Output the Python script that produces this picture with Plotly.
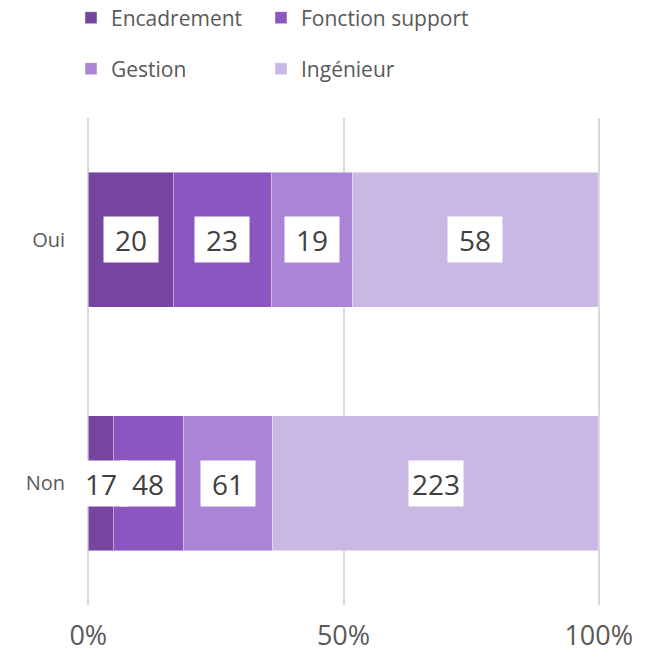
import plotly.graph_objects as go

categories = ["Non", "Oui"]
series_names = ["Encadrement", "Fonction support", "Gestion", "Ingénieur"]
series_values = {
    "Encadrement": [17, 20],
    "Fonction support": [48, 23],
    "Gestion": [61, 19],
    "Ingénieur": [223, 58],
}
series_colors = {
    "Encadrement": "#7645A0",
    "Fonction support": "#8B56BF",
    "Gestion": "#AA85D6",
    "Ingénieur": "#CAB8E4",
}
tick_vals = [0, 50, 100]
tick_text = ["0%", "50%", "100%"]

FONT = "Open Sans"
TEXT_COLOR = "#595959"
GRID = "#D9D9D9"

# one legend box per series, laid out as a 2 x 2 grid (container pixels)
legend_ids = ["legend", "legend2", "legend3", "legend4"]
legend_pos = [(71, 18), (261, 18), (71, 69), (261, 69)]

fig = go.Figure()
for name, lid in zip(series_names, legend_ids):
    fig.add_trace(go.Bar(
        y=categories,
        x=series_values[name],
        name=name,
        orientation="h",
        legend=lid,
        marker=dict(color=series_colors[name], line=dict(color="rgba(255,255,255,0.45)", width=1)),
        hoverinfo="skip",
    ))

# value labels in white boxes, centred on each stacked segment
totals = [sum(series_values[n][i] for n in series_names) for i in range(len(categories))]
annotations = []
for i, cat in enumerate(categories):
    cum = 0
    for name in series_names:
        v = series_values[name][i]
        mid = (cum + v / 2) / totals[i] * 100
        cum += v
        annotations.append(dict(
            x=mid, y=cat, xref="x", yref="y", text=str(v), showarrow=False,
            bgcolor="white", width=52, height=43,
            font=dict(family=FONT, size=28, color="#404040"),
        ))

legend_layout = {}
for lid, (px, py) in zip(legend_ids, legend_pos):
    legend_layout[lid] = dict(
        orientation="h", xref="container", yref="container",
        x=px / 653, xanchor="left", y=1 - py / 655, yanchor="middle",
        bgcolor="rgba(0,0,0,0)", itemwidth=30,
        font=dict(family=FONT, size=21, color=TEXT_COLOR),
    )

fig.update_layout(
    width=653, height=655,
    margin=dict(l=87, r=53, t=118, b=50, autoexpand=False),
    paper_bgcolor="white", plot_bgcolor="white",
    barmode="stack", barnorm="percent", bargap=0.444,
    font=dict(family=FONT, color=TEXT_COLOR),
    annotations=annotations,
    showlegend=True,
    **legend_layout,
    xaxis=dict(
        range=[-0.25, 100.25], tickvals=tick_vals, ticktext=tick_text,
        showgrid=True, gridcolor=GRID, gridwidth=1.5,
        zeroline=False, showline=False, ticks="", automargin=False,
        ticklabelstandoff=12,
        tickfont=dict(family=FONT, size=27, color=TEXT_COLOR),
    ),
    yaxis=dict(
        range=[-0.5, 1.5], showgrid=False, zeroline=False, showline=False,
        ticks="", automargin=False, ticklabelstandoff=21,
        tickfont=dict(family=FONT, size=20, color=TEXT_COLOR),
    ),
)

fig.write_html("out.html")
